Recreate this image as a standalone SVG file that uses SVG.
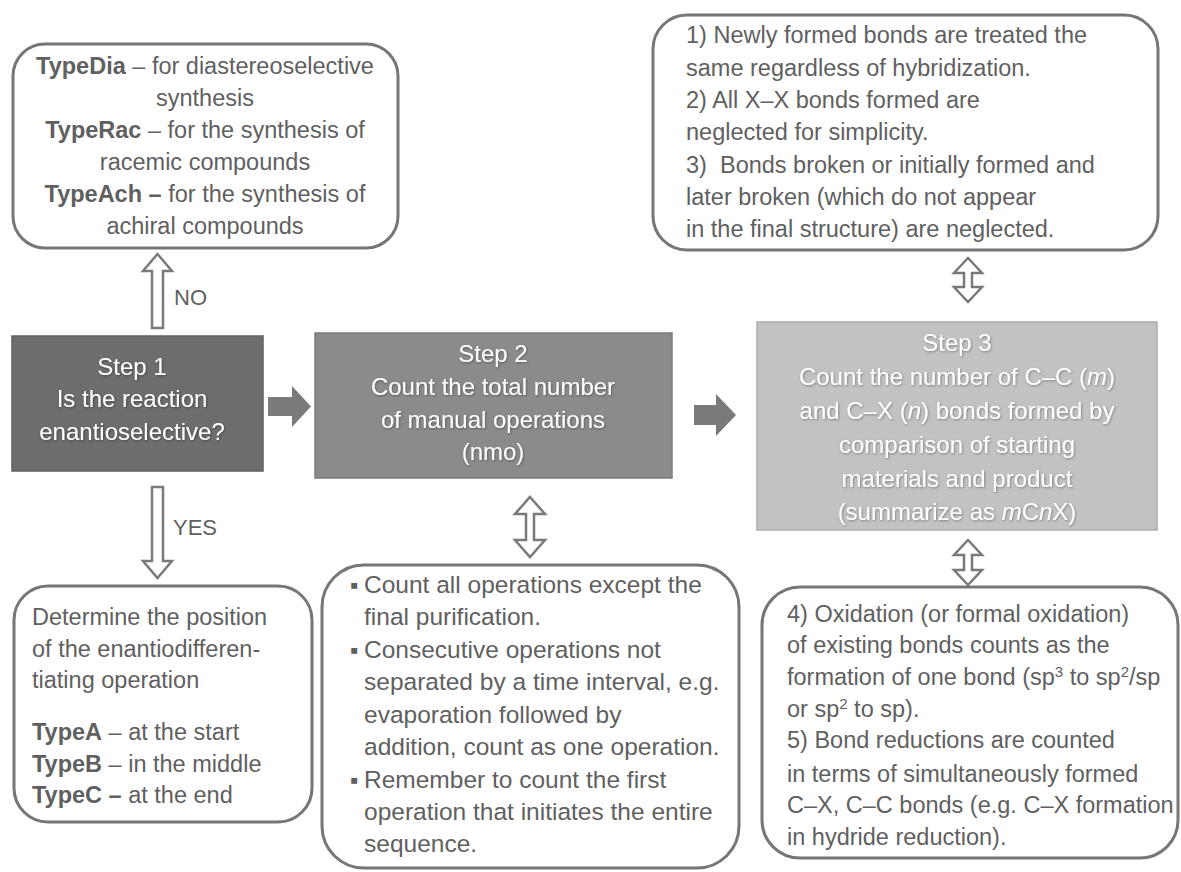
<svg xmlns="http://www.w3.org/2000/svg" width="1181" height="872" viewBox="0 0 1181 872">
  <defs>
    <style>
      .box { fill: #ffffff; stroke: #767676; stroke-width: 3; }
      .txt { font-family: "Liberation Sans", Arial, sans-serif; font-size: 23.5px; fill: #606060; }
      .ops { font-size: 24.5px; }
      .b { font-weight: bold; }
      .mid { text-anchor: middle; }
      .step { font-family: "Liberation Sans", Arial, sans-serif; font-size: 24px; fill: #ffffff; text-anchor: middle; filter: url(#glow); }
      .hollow { fill: #ffffff; stroke: #7a7a7a; stroke-width: 2.5; stroke-linejoin: miter; }
      .block { fill: #7a7a7a; }
      .lbl { font-family: "Liberation Sans", Arial, sans-serif; font-size: 22px; fill: #606060; }
    </style>
    <filter id="glow" x="-10%" y="-30%" width="120%" height="160%">
      <feDropShadow dx="0.8" dy="1" stdDeviation="1" flood-color="#000000" flood-opacity="0.35"/>
    </filter>
  </defs>

  <rect width="1181" height="872" fill="#ffffff"/>

  <!-- connectors -->
  <g id="connectors">
    <!-- NO: up from Step 1 -->
    <path class="hollow" d="M157.5,254 L172,271 L163,271 L163,328 L152,328 L152,271 L143,271 Z"/>
    <text class="lbl" x="174" y="305">NO</text>
    <!-- YES: down from Step 1 -->
    <path class="hollow" d="M152,487 L163,487 L163,561 L172,561 L157.5,578 L143,561 L152,561 Z"/>
    <text class="lbl" x="173" y="535">YES</text>
    <!-- Step 1 to Step 2 -->
    <path class="block" d="M268,397 L292,397 L292,386 L311,406.5 L292,427 L292,416 L268,416 Z"/>
    <!-- Step 2 to Step 3 -->
    <path class="block" d="M694,405 L716,405 L716,394 L736,415 L716,436 L716,425 L694,425 Z"/>
    <!-- Step 2 notes -->
    <path class="hollow" d="M530,497 L545,514 L534,514 L534,540 L545,540 L530,557 L515,540 L526,540 L526,514 L515,514 Z"/>
    <!-- Step 3 rules above -->
    <path class="hollow" d="M968,258 L982,273 L972,273 L972,287 L982,287 L968,302 L954,287 L964,287 L964,273 L954,273 Z"/>
    <!-- Step 3 rules below -->
    <path class="hollow" d="M968,540 L982,555 L972,555 L972,570 L982,570 L968,585 L954,570 L964,570 L964,555 L954,555 Z"/>
  </g>

  <!-- achiral / racemic / diastereoselective types -->
  <g id="types-no">
    <rect class="box" x="13" y="44" width="385" height="204" rx="32"/>
    <text class="txt mid" x="205" y="74"><tspan class="b">TypeDia</tspan> – for diastereoselective</text>
    <text class="txt mid" x="205" y="106">synthesis</text>
    <text class="txt mid" x="205" y="138"><tspan class="b">TypeRac</tspan> – for the synthesis of</text>
    <text class="txt mid" x="205" y="170">racemic compounds</text>
    <text class="txt mid" x="205" y="202"><tspan class="b">TypeAch –</tspan> for the synthesis of</text>
    <text class="txt mid" x="205" y="234">achiral compounds</text>
  </g>

  <!-- Step 1 -->
  <g id="step1">
    <rect x="12" y="336" width="251" height="135" fill="#6d6d6d" stroke="#606060" stroke-width="1.5"/>
    <text class="step" x="132" y="375">Step 1</text>
    <text class="step" x="132" y="407">Is the reaction</text>
    <text class="step" x="132" y="440">enantioselective?</text>
  </g>

  <!-- Step 2 -->
  <g id="step2">
    <rect x="315" y="333" width="357" height="145" fill="#8b8b8b" stroke="#7c7c7c" stroke-width="1.5"/>
    <text class="step" x="493" y="362" font-size="25">Step 2</text>
    <text class="step" x="493" y="395" font-size="25">Count the total number</text>
    <text class="step" x="493" y="428" font-size="25">of manual operations</text>
    <text class="step" x="493" y="460" font-size="25">(nmo)</text>
  </g>

  <!-- Step 3 -->
  <g id="step3">
    <rect x="757" y="322" width="400" height="208" fill="#c2c2c2" stroke="#acacac" stroke-width="1.5"/>
    <text class="step" x="957" y="351">Step 3</text>
    <text class="step" x="957" y="385">Count the number of C–C (<tspan font-style="italic">m</tspan>)</text>
    <text class="step" x="957" y="419">and C–X (<tspan font-style="italic">n</tspan>) bonds formed by</text>
    <text class="step" x="957" y="453">comparison of starting</text>
    <text class="step" x="957" y="487">materials and product</text>
    <text class="step" x="957" y="520">(summarize as <tspan font-style="italic">m</tspan>C<tspan font-style="italic">n</tspan>X)</text>
  </g>

  <!-- bond counting rules 1-3 -->
  <g id="rules-1-3">
    <rect class="box" x="653" y="15" width="505" height="235" rx="34"/>
    <text class="txt" x="686" y="43">1) Newly formed bonds are treated the</text>
    <text class="txt" x="686" y="75.5">same regardless of hybridization.</text>
    <text class="txt" x="686" y="108">2) All X–X bonds formed are</text>
    <text class="txt" x="686" y="140">neglected for simplicity.</text>
    <text class="txt" x="686" y="172.5" xml:space="preserve">3)  Bonds broken or initially formed and</text>
    <text class="txt" x="686" y="205">later broken (which do not appear</text>
    <text class="txt" x="686" y="237">in the final structure) are neglected.</text>
  </g>

  <!-- enantioselective types -->
  <g id="types-yes">
    <rect class="box" x="14" y="586" width="298" height="236" rx="34"/>
    <text class="txt" x="32" y="625">Determine the position</text>
    <text class="txt" x="32" y="657">of the enantiodifferen-</text>
    <text class="txt" x="32" y="688">tiating operation</text>
    <text class="txt" x="32" y="740"><tspan class="b">TypeA</tspan> – at the start</text>
    <text class="txt" x="32" y="772"><tspan class="b">TypeB</tspan> – in the middle</text>
    <text class="txt" x="32" y="803"><tspan class="b">TypeC –</tspan> at the end</text>
  </g>

  <!-- manual operation counting rules -->
  <g id="nmo-rules">
    <rect class="box" x="322" y="565" width="417" height="303" rx="42"/>
    <text class="txt" x="350" y="593" font-size="14">▪</text>
    <text class="txt ops" x="364" y="593">Count all operations except the</text>
    <text class="txt ops" x="364" y="625">final purification.</text>
    <text class="txt" x="350" y="658" font-size="14">▪</text>
    <text class="txt ops" x="364" y="658">Consecutive operations not</text>
    <text class="txt ops" x="364" y="690">separated by a time interval, e.g.</text>
    <text class="txt ops" x="364" y="723">evaporation followed by</text>
    <text class="txt ops" x="364" y="755">addition, count as one operation.</text>
    <text class="txt" x="350" y="788" font-size="14">▪</text>
    <text class="txt ops" x="364" y="788">Remember to count the first</text>
    <text class="txt ops" x="364" y="820">operation that initiates the entire</text>
    <text class="txt ops" x="364" y="852">sequence.</text>
  </g>

  <!-- bond counting rules 4-5 -->
  <g id="rules-4-5">
    <rect class="box" x="762" y="587" width="416" height="271" rx="38"/>
    <text class="txt" x="787" y="622">4) Oxidation (or formal oxidation)</text>
    <text class="txt" x="787" y="653">of existing bonds counts as the</text>
    <text class="txt" x="787" y="685">formation of one bond (sp<tspan dy="-8" font-size="15">3</tspan><tspan dy="8"> to sp</tspan><tspan dy="-8" font-size="15">2</tspan><tspan dy="8">/sp</tspan></text>
    <text class="txt" x="787" y="717">or sp<tspan dy="-8" font-size="15">2</tspan><tspan dy="8"> to sp).</tspan></text>
    <text class="txt" x="787" y="748">5) Bond reductions are counted</text>
    <text class="txt" x="787" y="782">in terms of simultaneously formed</text>
    <text class="txt" x="787" y="813">C–X, C–C bonds (e.g. C–X formation</text>
    <text class="txt" x="787" y="845">in hydride reduction).</text>
  </g>
</svg>
